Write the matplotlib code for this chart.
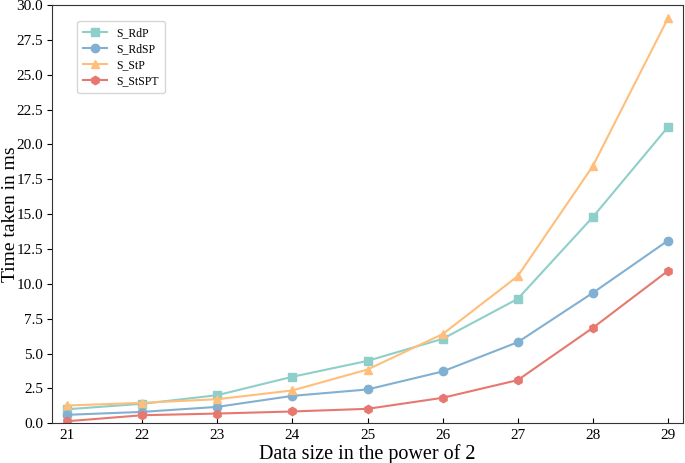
import numpy as np
import matplotlib.pyplot as plt

plt.rcParams['font.family'] = ['Liberation Serif', 'DejaVu Serif']

# data size (power of 2)
sizes = [21, 22, 23, 24, 25, 26, 27, 28, 29]

s_rdp = [1.0, 1.39, 2.01, 3.33, 4.47, 6.05, 8.92, 14.79, 21.25]
s_rdsp = [0.6, 0.81, 1.17, 1.96, 2.42, 3.71, 5.81, 9.35, 13.1]
s_stp = [1.27, 1.46, 1.72, 2.35, 3.85, 6.39, 10.55, 18.45, 29.05]
s_stspt = [0.14, 0.57, 0.69, 0.84, 1.03, 1.82, 3.09, 6.84, 10.93]

fig = plt.figure(figsize=(6.85, 4.63), dpi=100)
ax = fig.add_axes([0.076, 0.086, 0.921, 0.903])

ax.plot(sizes, s_rdp, marker='s', color='#8ECFC9', lw=1.5, ms=6, label='S_RdP')
ax.plot(sizes, s_rdsp, marker='o', color='#82B0D2', lw=1.5, ms=6, label='S_RdSP')
ax.plot(sizes, s_stp, marker='^', color='#FFBE7A', lw=1.5, ms=6, label='S_StP')
ax.plot(sizes, s_stspt, marker='h', color='#E7786F', lw=1.5, ms=6, label='S_StSPT')

ax.set_xlim(20.8, 29.2)
ax.set_ylim(0, 30)
ax.set_yticks(np.arange(0, 30.1, 2.5))
ax.set_xticks(sizes)
ax.tick_params(axis='y', labelsize=11, pad=3)
ax.tick_params(axis='x', labelsize=11, direction='in', pad=4)
ax.set_xlabel('Data size in the power of 2', fontsize=14.5, va='center')
ax.set_ylabel('Time taken in ms', fontsize=14, va='center')
ax.xaxis.set_label_coords(0.5, -0.073)
ax.yaxis.set_label_coords(-0.0665, 0.5)
for sp in ax.spines.values():
    sp.set_color('#333333')

ax.legend(loc='upper left', bbox_to_anchor=(0.04, 0.962), fontsize=8.5,
          handlelength=2.0, borderpad=0.5, labelspacing=0.35,
          borderaxespad=0)

fig.savefig('out.png', dpi=100)
